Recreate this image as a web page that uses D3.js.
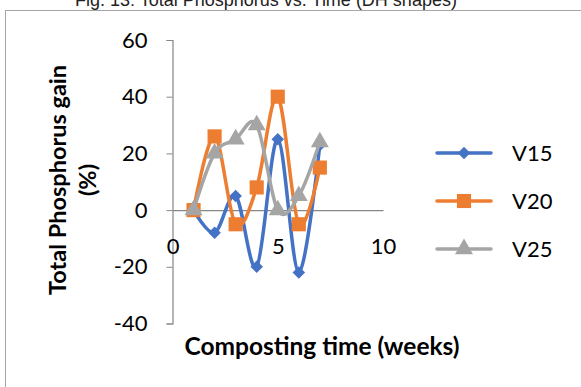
<!DOCTYPE html>
<html>
<head>
<meta charset="utf-8">
<script src="https://cdn.jsdelivr.net/npm/d3@7"></script>
<style>
    body { margin: 0; background: #fff; }
    svg { display: block; }
    .lbl { font-family: Lato, "Open Sans", sans-serif; fill: #000; }
</style>
</head>
<body>
<svg id="chart" width="581" height="387"></svg>
<script>
// Data
let weeks = [1, 2, 3, 4, 5, 6, 7];
let v15 = [0, -8, 5, -20, 25, -22, 23];
let v20 = [0, 26, -5, 8, 40, -5, 15];
let v25 = [0, 20, 25, 30, 0, 5, 24];
let seriesNames = ["V15", "V20", "V25"];
let seriesColors = ["#4472C4", "#ED7D31", "#A5A5A5"];
let yTicks = [-40, -20, 0, 20, 40, 60];
let xTicks = [0, 5, 10];

let svg = d3.select("#chart");

// outer chart border (clipped on the right / bottom)
svg.append("rect")
    .attr("x", 5.5).attr("y", 10.5)
    .attr("width", 600).attr("height", 400)
    .attr("fill", "none")
    .attr("stroke", "#A6A6A6");

// title, partly cut at the top
svg.append("text")
    .attr("x", 266).attr("y", 6)
    .attr("text-anchor", "middle")
    .style("font-family", "'Liberation Sans', Arial, sans-serif")
    .style("font-size", "18px")
    .attr("fill", "#222")
    .text("Fig. 13: Total Phosphorus vs. Time (DH shapes)");

let x = d3.scaleLinear().domain([0, 10]).range([172.5, 383]);
let y = d3.scaleLinear().domain([-40, 60]).range([323.5, 40]);

// plain hyphen for negatives, like the original
let fmt = d => String(d);

// y axis
let yAxis = svg.append("g")
    .attr("transform", "translate(" + x(0) + ",0)")
    .call(d3.axisLeft(y).tickValues(yTicks).tickFormat(fmt).tickSize(6).tickPadding(19));
yAxis.select(".domain").attr("stroke", "#868686").attr("stroke-width", 1.2);
yAxis.selectAll(".tick line").attr("stroke", "#868686");
yAxis.selectAll(".tick text")
    .attr("class", "lbl")
    .style("font-size", "22px");

// x axis along y = 0, labels hang below
let xAxis = svg.append("g")
    .attr("transform", "translate(0," + y(0) + ")")
    .call(d3.axisBottom(x).tickValues(xTicks).tickFormat(fmt).tickSize(0).tickPadding(28));
xAxis.select(".domain").attr("stroke", "#868686").attr("stroke-width", 1.2);
xAxis.selectAll(".tick text")
    .attr("class", "lbl")
    .style("font-size", "22px");

// axis titles
svg.append("text")
    .attr("class", "lbl")
    .attr("x", 322).attr("y", 355)
    .attr("text-anchor", "middle")
    .style("font-size", "24.5px")
    .style("font-weight", "bold")
    .text("Composting time (weeks)");

let yTitle = svg.append("text")
    .attr("class", "lbl")
    .attr("transform", "translate(66,180) rotate(-90)")
    .attr("text-anchor", "middle")
    .style("font-size", "23.5px")
    .style("font-weight", "bold");
yTitle.append("tspan").attr("x", 0).attr("y", 0).text("Total Phosphorus gain");
yTitle.append("tspan").attr("x", 0).attr("y", 30).text("(%)");

// series
let series = [v15, v20, v25].map((vals, i) => ({
    name: seriesNames[i],
    color: seriesColors[i],
    points: weeks.map((w, j) => ({ w: w, v: vals[j] }))
}));

let line = d3.line()
    .x(d => x(d.w))
    .y(d => y(d.v))
    .curve(d3.curveCardinal.tension(0));

let symbols = [
    d3.symbol().type(d3.symbolDiamond2).size(100),
    d3.symbol().type(d3.symbolSquare).size(200),
    d3.symbol().type(d3.symbolTriangle).size(140)
];

series.forEach((s, i) => {
    let g = svg.append("g");
    g.append("path")
        .attr("d", line(s.points))
        .attr("fill", "none")
        .attr("stroke", s.color)
        .attr("stroke-width", 3.5)
        .attr("stroke-linejoin", "round")
        .attr("stroke-linecap", "round");
    g.selectAll(".mk")
        .data(s.points)
        .enter()
        .append("path")
        .attr("transform", d => "translate(" + x(d.w) + "," + y(d.v) + ")")
        .attr("d", symbols[i])
        .attr("fill", s.color);
});

// legend
let legend = svg.append("g");
series.forEach((s, i) => {
    let ly = 153 + i * 48;
    legend.append("line")
        .attr("x1", 437).attr("x2", 491)
        .attr("y1", ly).attr("y2", ly)
        .attr("stroke", s.color)
        .attr("stroke-width", 3.5)
        .attr("stroke-linecap", "round");
    legend.append("path")
        .attr("transform", "translate(464," + ly + ")")
        .attr("d", symbols[i])
        .attr("fill", s.color);
    legend.append("text")
        .attr("class", "lbl")
        .attr("x", 512).attr("y", ly)
        .attr("dy", "0.36em")
        .style("font-size", "22px")
        .text(s.name);
});
</script>
</body>
</html>
